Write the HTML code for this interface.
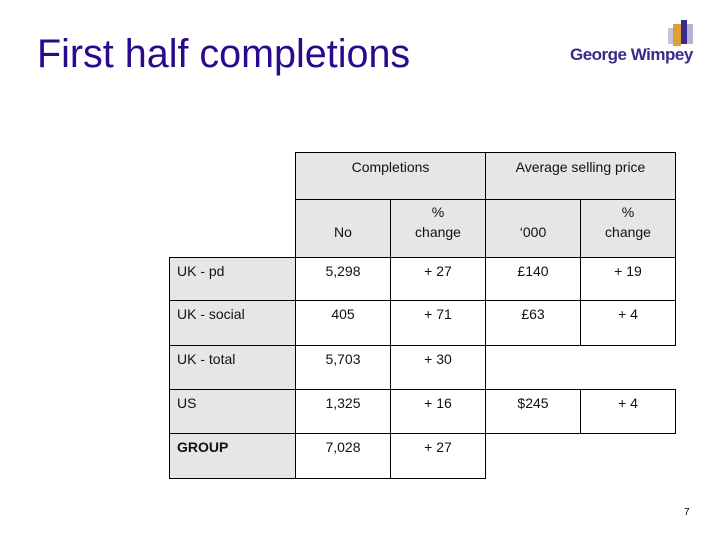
<!DOCTYPE html>
<html><head><meta charset="utf-8"><style>
body{margin:0;width:720px;height:540px;background:#fff;position:relative;font-family:"Liberation Sans",Arial,sans-serif;overflow:hidden}
.t{position:absolute;left:37px;top:32px;font-size:39.5px;color:#2a0a8a;white-space:nowrap}
.c{position:absolute;box-sizing:border-box;border:1px solid #000;font-size:14px;color:#111;text-align:center;line-height:20px}
.g{background:#e6e6e6}
.l{text-align:left;padding-left:7px}
</style></head><body>
<div class="t">First half completions</div>
<div style="position:absolute;left:568px;top:18px;width:130px;height:50px">
<svg width="130" height="50"><rect x="105" y="6" width="8" height="22" fill="#e0a030"/><rect x="113" y="2" width="6" height="24" fill="#3a2a8a"/><rect x="119" y="6" width="6" height="20" fill="#b9b0d8"/><rect x="100" y="10" width="5" height="16" fill="#c8c0e0"/></svg>
<div style="position:absolute;left:2px;top:27px;font-size:17px;font-weight:bold;color:#3a2a8a;white-space:nowrap;letter-spacing:-0.5px">George Wimpey</div>
</div>
<div id="tbl"></div>
<div style="position:absolute;left:684px;top:507px;font-size:10px">7</div>
<script>
const xs=[169,295,390,485,580,675];
const ys=[152,199,257,300,345,389,433,478];
const rowLabels=["UK - pd","UK - social","UK - total","US","GROUP"];
const noVals=["5,298","405","5,703","1,325","7,028"];
const pctVals=["+ 27","+ 71","+ 30","+ 16","+ 27"];
const priceVals=["£140","£63","","$245",""];
const pricePct=["+ 19","+ 4","","+ 4",""];
const tb=document.getElementById('tbl');
function cell(x1,x2,y1,y2,txt,cls,name,pt){
 const d=document.createElement('div');d.className='c '+(cls||'');
 d.style.left=x1+'px';d.style.top=y1+'px';d.style.width=(x2-x1+1)+'px';d.style.height=(y2-y1+1)+'px';
 d.style.paddingTop=(pt||8)+'px';d.innerHTML=txt;
 
 
 tb.appendChild(d);}
cell(xs[1],xs[3],ys[0],ys[1],'Completions','g','header-completions',4);
cell(xs[3],xs[5],ys[0],ys[1],'Average selling price','g','header-average-selling-price',4);
cell(xs[1],xs[2],ys[1],ys[2],'<br>No','g','header-no',2);
cell(xs[2],xs[3],ys[1],ys[2],'%<br>change','g','header-pct-change',2);
cell(xs[3],xs[4],ys[1],ys[2],'<br>‘000','g','header-000',2);
cell(xs[4],xs[5],ys[1],ys[2],'%<br>change','g','header-price-pct-change',2);
rowLabels.forEach((r,i)=>{
 const y1=ys[i+2],y2=ys[i+3];
 cell(xs[0],xs[1],y1,y2,r,'g l','row-label-'+i,3);
 if(i==4){tb.lastChild.style.fontWeight='bold';}
 cell(xs[1],xs[2],y1,y2,noVals[i],'','no-'+i,3);
 cell(xs[2],xs[3],y1,y2,pctVals[i],'','pct-'+i,3);
 if(priceVals[i]){
  cell(xs[3],xs[4],y1,y2,priceVals[i],'','price-'+i,3);
  cell(xs[4],xs[5],y1,y2,pricePct[i],'','price-pct-'+i,3);
 }
});
</script>
</body></html>
